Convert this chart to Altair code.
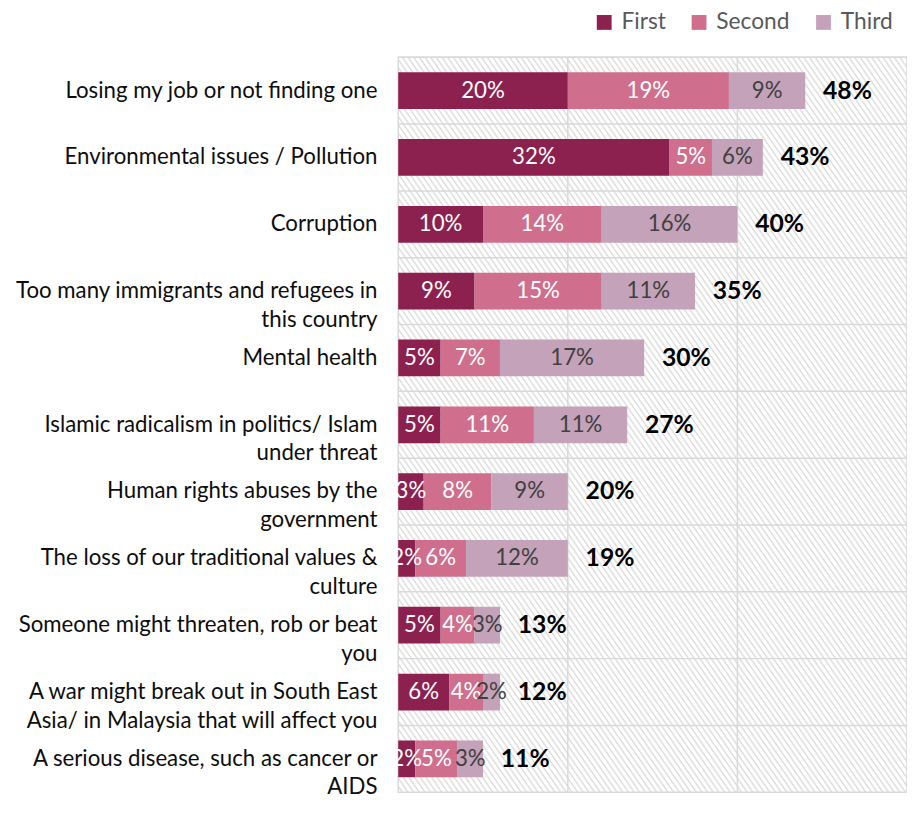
import altair as alt
import pandas as pd

categories = [
    "Losing my job or not finding one",
    "Environmental issues / Pollution",
    "Corruption",
    "Too many immigrants and refugees in|this  country",
    "Mental health",
    "Islamic radicalism in politics/ Islam|under threat",
    "Human rights abuses by the|government",
    "The loss of our traditional values &|culture",
    "Someone might threaten, rob or beat|you",
    "A war might break out in South East|Asia/ in Malaysia that will affect you",
    "A serious disease, such as cancer or|AIDS",
]
first = [20, 32, 10, 9, 5, 5, 3, 2, 5, 6, 2]
second = [19, 5, 14, 15, 7, 11, 8, 6, 4, 4, 5]
third = [9, 6, 16, 11, 17, 11, 9, 12, 3, 2, 3]
totals = [48, 43, 40, 35, 30, 27, 20, 19, 13, 12, 11]

series_names = ["First", "Second", "Third"]
series_colors = ["#8C2150", "#CF6F8D", "#C4A2B9"]
x_domain = [0, 60]
grid_ticks = [20, 40]

rows = []
for i, c in enumerate(categories):
    start = 0
    for name, vals in zip(series_names, [first, second, third]):
        v = vals[i]
        rows.append({"cat": c, "seg": name, "value": v, "start": start,
                     "end": start + v, "mid": start + v / 2, "label": f"{v}%"})
        start += v
df = pd.DataFrame(rows)

tot_df = pd.DataFrame({
    "cat": categories,
    "end": [first[i] + second[i] + third[i] for i in range(len(categories))],
    "label": [f"{t}%" for t in totals],
})
cat_df = pd.DataFrame({"cat": categories})
bg_df = pd.DataFrame({"lo": [x_domain[0]], "hi": [x_domain[1]]})
vgrid_df = pd.DataFrame({"t": grid_ticks})

FONT = "Lato"
xs = alt.Scale(domain=x_domain, nice=False, zero=True)
ys = alt.Scale(domain=categories, paddingInner=0, paddingOuter=0)

n = 180
stops = []
for k in range(n):
    b = k / n
    stops += [
        {"offset": b, "color": "#ffffff"},
        {"offset": b + 0.45 / n, "color": "#ffffff"},
        {"offset": b + 0.75 / n, "color": "#d9d9d9"},
    ]
stops.append({"offset": 1, "color": "#ffffff"})
gradient = {"gradient": "linear", "stops": stops, "x1": 0, "y1": 1, "x2": 1, "y2": 0}

background = alt.Chart(bg_df).mark_rect(fill=gradient, stroke="#d9d9d9", strokeWidth=1.5).encode(
    x=alt.X("lo:Q", scale=xs, axis=None),
    x2="hi:Q",
)

hgrid = alt.Chart(cat_df).mark_rule(color="#d9d9d9", strokeWidth=1.5).encode(
    y=alt.Y("cat:N", scale=ys, axis=None, bandPosition=0),
)

vgrid = alt.Chart(vgrid_df).mark_rule(color="#d9d9d9", strokeWidth=1.5).encode(
    x=alt.X("t:Q", scale=xs, axis=None),
)

bars = alt.Chart(df).mark_bar(height=alt.RelativeBandSize(0.55)).encode(
    y=alt.Y("cat:N", scale=ys, axis=None),
    x=alt.X("start:Q", scale=xs, axis=None),
    x2="end:Q",
    color=alt.Color(
        "seg:N",
        scale=alt.Scale(domain=series_names, range=series_colors),
        legend=alt.Legend(
            orient="none", legendX=197, legendY=-47, direction="horizontal",
            title=None, symbolType="square", symbolSize=225, symbolStrokeWidth=0,
            symbolOpacity=1, labelFontSize=23, labelColor="#595959", labelFont=FONT,
            labelOffset=6, columnPadding=22, padding=0,
        ),
    ),
)

seg_text = alt.Chart(df).mark_text(fontSize=22.5, font=FONT, baseline="middle", align="center").encode(
    y=alt.Y("cat:N", scale=ys, axis=None),
    x=alt.X("mid:Q", scale=xs, axis=None),
    text="label:N",
    color=alt.condition(alt.datum.seg == "Third", alt.value("#404040"), alt.value("#ffffff")),
)

tot_text = alt.Chart(tot_df).mark_text(
    fontSize=25, font=FONT, fontWeight="bold", baseline="middle", align="left", dx=18, color="#000000"
).encode(
    y=alt.Y("cat:N", scale=ys, axis=None),
    x=alt.X("end:Q", scale=xs, axis=None),
    text="label:N",
)

cat_text = alt.Chart(cat_df).mark_text(
    fontSize=22.5, font=FONT, baseline="middle", align="right", lineBreak="|", lineHeight=29, color="#0d0d0d"
).encode(
    y=alt.Y("cat:N", scale=ys, axis=None),
    x=alt.value(-21),
    text="cat:N",
)

chart = alt.layer(background, hgrid, vgrid, bars, seg_text, tot_text, cat_text).properties(
    width=515, height=744,
    autosize=alt.AutoSizeParams(type="none"),
    padding={"left": 395, "top": 45, "right": 0, "bottom": 6},
).configure_view(stroke=None)

chart.save("out.html", embed_options={"renderer": "svg", "actions": False})
